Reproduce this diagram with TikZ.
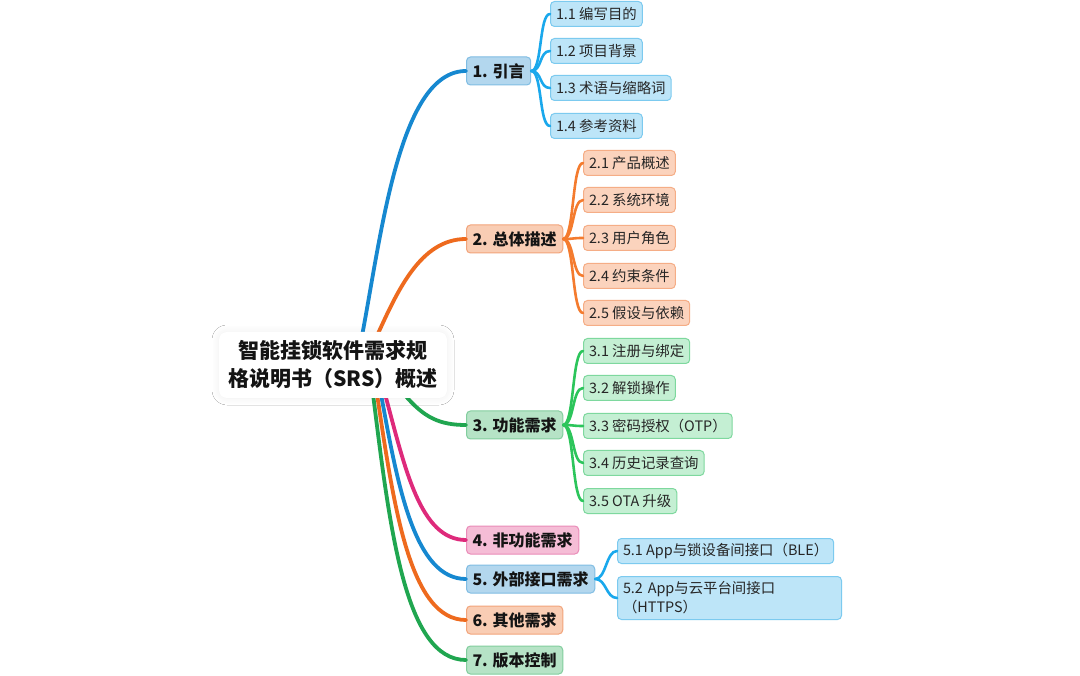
\documentclass[tikz,border=0pt]{standalone}
\usepackage{fontspec}
\setmainfont{Noto Sans CJK SC}
\usetikzlibrary{calc,shadows.blur}
\definecolor{mblue}{HTML}{1688D0}
\definecolor{sblue}{HTML}{1AA8EC}
\definecolor{morange}{HTML}{EE6A1E}
\definecolor{sorange}{HTML}{F47B2E}
\definecolor{mgreen}{HTML}{20A650}
\definecolor{sgreen}{HTML}{2CC55B}
\definecolor{mpink}{HTML}{DE2A7B}
\definecolor{fblue}{HTML}{B3D7EE}\definecolor{bblue}{HTML}{80BDE3}
\definecolor{fsblue}{HTML}{BDE5F8}\definecolor{bsblue}{HTML}{7CCAEF}
\definecolor{forange}{HTML}{F9CDB4}\definecolor{borange}{HTML}{F2A47B}
\definecolor{fsorange}{HTML}{FBD3BD}\definecolor{bsorange}{HTML}{F5AD86}
\definecolor{fgreen}{HTML}{B6E3C6}\definecolor{bgreen}{HTML}{82CE9E}
\definecolor{fsgreen}{HTML}{C4EFD3}\definecolor{bsgreen}{HTML}{7ED89E}
\definecolor{fpink}{HTML}{F5BDD6}\definecolor{bpink}{HTML}{EA8BB8}
\begin{document}
\begin{tikzpicture}[x=1pt,y=-1pt,
  lvlone/.style={draw, rounded corners=4pt, line width=1pt, font=\fontsize{16}{19}\selectfont\bfseries,
    inner xsep=6pt, inner ysep=0pt, minimum height=28pt, anchor=west, text=black!92},
  subnode/.style={draw, rounded corners=4pt, line width=1pt, font=\fontsize{14.4}{17}\selectfont,
    inner xsep=5.5pt, inner ysep=0pt, minimum height=25pt, anchor=west, text=black!85},
  mainline/.style={line width=3.8pt, line cap=round},
  subline/.style={line width=2.6pt, line cap=round},
  bl/.style={lvlone, fill=fblue, draw=bblue},
  ol/.style={lvlone, fill=forange, draw=borange},
  gl/.style={lvlone, fill=fgreen, draw=bgreen},
  pl/.style={lvlone, fill=fpink, draw=bpink},
  bs/.style={subnode, fill=fsblue, draw=bsblue},
  os/.style={subnode, fill=fsorange, draw=bsorange},
  gs/.style={subnode, fill=fsgreen, draw=bsgreen},
]
\useasboundingbox (0,0) rectangle (1080,676);
\fill[white] (0,0) rectangle (1080,676);

% level-1 nodes
\node[bl] (n1) at (466,71) {1. 引言};
\node[ol] (n2) at (466,239) {2. 总体描述};
\node[gl] (n3) at (466,425) {3. 功能需求};
\node[pl] (n4) at (466,540) {4. 非功能需求};
\node[bl] (n5) at (466,579) {5. 外部接口需求};
\node[ol] (n6) at (466,620) {6. 其他需求};
\node[gl] (n7) at (466,660) {7. 版本控制};

% level-2 nodes
\node[bs] (n11) at (550,14) {1.1 编写目的};
\node[bs] (n12) at (550,51) {1.2 项目背景};
\node[bs] (n13) at (550,88) {1.3 术语与缩略词};
\node[bs] (n14) at (550,126) {1.4 参考资料};

\node[os] (n21) at (583,163) {2.1 产品概述};
\node[os] (n22) at (583,200) {2.2 系统环境};
\node[os] (n23) at (583,238) {2.3 用户角色};
\node[os] (n24) at (583,276) {2.4 约束条件};
\node[os] (n25) at (583,313) {2.5 假设与依赖};

\node[gs] (n31) at (583,351) {3.1 注册与绑定};
\node[gs] (n32) at (583,388) {3.2 解锁操作};
\node[gs] (n33) at (583,426) {3.3 密码授权（OTP）};
\node[gs] (n34) at (583,463) {3.4 历史记录查询};
\node[gs] (n35) at (583,501) {3.5 OTA 升级};

\node[bs] (n51) at (617,551) {5.1 App与锁设备间接口（BLE）};
\node[bs, text width=213pt, align=left, inner ysep=3pt, minimum height=43pt,
      font=\fontsize{14.4}{19}\selectfont] (n52) at (617,598) {5.2 App与云平台间接口\\（HTTPS）};

% start points inside the root
\coordinate (s1) at (362,336);
\coordinate (s2) at (376,338);
\coordinate (s3) at (404,394);
\coordinate (s4) at (385,394);
\coordinate (s5) at (381,394);
\coordinate (s6) at (377,394);
\coordinate (s7) at (373,394);

% main connectors
\draw[mainline, mblue] (s1) .. controls (382,230) and (400,71) .. (n1.west);
\draw[mainline, morange] (s2) .. controls (397,292) and (420,239) .. (n2.west);
\draw[mainline, mgreen] (s3) .. controls (424,418) and (440,425) .. (n3.west);
\draw[mainline, mgreen] (s7) .. controls (390,530) and (405,660) .. (n7.west);
\draw[mainline, morange] (s6) .. controls (394,508) and (410,620) .. (n6.west);
\draw[mainline, mblue] (s5) .. controls (398,488) and (415,579) .. (n5.west);
\draw[mainline, mpink] (s4) .. controls (405,468) and (420,540) .. (n4.west);

% sub connectors
\foreach \c in {n11,n12,n13,n14}
  \draw[subline, sblue] (n1.east) .. controls +(11,0) and +(-11,0) .. (\c.west);
\foreach \c in {n21,n22,n23,n24,n25}
  \draw[subline, sorange] (n2.east) .. controls +(11,0) and +(-11,0) .. (\c.west);
\foreach \c in {n31,n32,n33,n34,n35}
  \draw[subline, sgreen] (n3.east) .. controls +(11,0) and +(-11,0) .. (\c.west);
\foreach \c in {n51,n52}
  \draw[subline, sblue] (n5.east) .. controls +(11,0) and +(-11,0) .. (\c.west);

% root
\node[fill=white, rounded corners=8pt, minimum width=228pt, minimum height=66pt,
      align=center, inner sep=0pt, text=black!92,
      font=\fontsize{21}{28}\selectfont\bfseries,
      blur shadow={shadow xshift=0pt, shadow yshift=0pt, shadow blur radius=7pt, shadow blur steps=12, shadow opacity=7}]
  (root) at (333,365) {智能挂锁软件需求规\\格说明书（SRS）概述};
\end{tikzpicture}
\end{document}
